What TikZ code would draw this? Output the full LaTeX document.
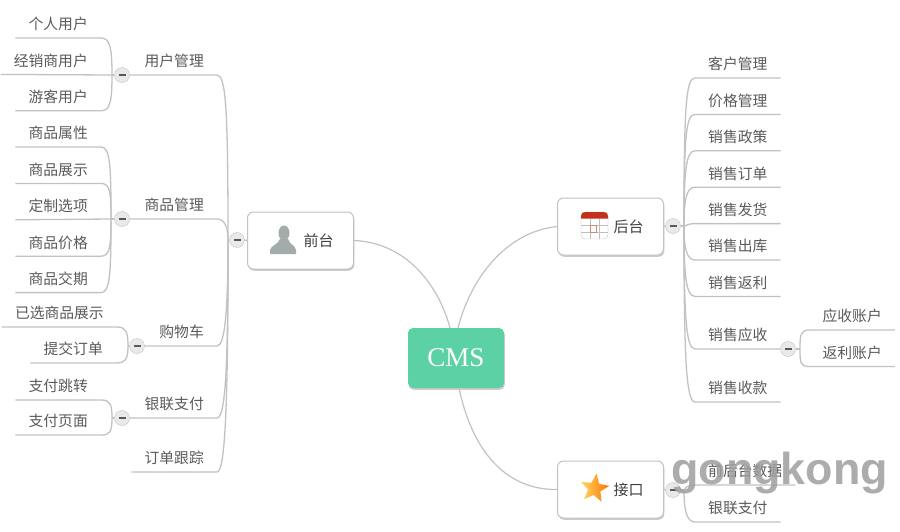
\documentclass[tikz,border=0pt]{standalone}
\usepackage{xcolor}
\usepackage{fontspec}
\usepackage{tikz}
\usetikzlibrary{shapes.geometric,positioning,calc,shadows}
\setmainfont{Liberation Serif}
\newfontfamily\cjk{Noto Sans CJK SC}
\newfontfamily\markfont{Liberation Sans}
\definecolor{rootgreen}{HTML}{5CD1A4}
\definecolor{linegray}{HTML}{C2C2C2}
\definecolor{textgray}{HTML}{5A5A5A}
\definecolor{buttongray}{HTML}{E8EAE8}
\definecolor{personicon}{HTML}{A3ABAB}
\definecolor{calendarred}{HTML}{C4301A}

\begin{document}
\begin{tikzpicture}[
    x=1pt, y=-1pt,
    node distance=12pt and 0pt,
    leaf/.style={rectangle, inner xsep=13pt, inner ysep=4.5pt, text height=11.5pt, text depth=3.5pt, font=\cjk\fontsize{14.8}{16}\selectfont, text=textgray},
    topic/.style={rectangle, draw=linegray, line width=1pt, fill=white, rounded corners=6pt, minimum width=106pt, minimum height=57pt, font=\cjk\fontsize{15}{17}\selectfont, text=black!75, drop shadow={shadow xshift=0.8pt, shadow yshift=-1.8pt, opacity=0.4}},
    rootbox/.style={rectangle, fill=rootgreen, rounded corners=5pt, minimum width=96pt, minimum height=60pt, font=\fontsize{27}{30}\selectfont, text=white, drop shadow={shadow xshift=0.8pt, shadow yshift=-1.8pt, opacity=0.4}},
    collapse/.style={circle, draw=linegray, fill=buttongray, minimum size=15pt, inner sep=0pt, path picture={\fill[black!65] ($(path picture bounding box.center)+(-3.5,-1)$) rectangle ($(path picture bounding box.center)+(3.5,1)$);}},
    branch/.style={draw=linegray, line width=1.3pt},
    link/.style={draw=linegray, line width=1.2pt}
]
  \useasboundingbox (0,0) rectangle (900,531);
  \fill[white] (0,0) rectangle (900,531);

  \node[rootbox] (cms) at (456,358) {CMS};
  \node[topic] (front) at (300.5,240.5) {\hspace*{36pt}前台};
  \node[topic] (back) at (610.5,226.5) {\hspace*{36pt}后台};
  \node[topic] (api) at (610.5,489.5) {\hspace*{36pt}接口};

  \draw[link] (front.east) .. controls (410,243) and (440,290) .. (450,328);
  \draw[link] (back.west) .. controls (505,232) and (470,280) .. (458,328);
  \draw[link] (api.west) .. controls (505,490) and (472,450) .. (459,388);

  \fill[personicon] (284,233) ellipse (5.5 and 7.5);
  \fill[personicon] (270,254) -- (270,250) .. controls (271,245) and (278,245) .. (280,239) -- (288,239) .. controls (290,245) and (295,245) .. (296,250) -- (296,254) -- cycle;
  \draw[black!25, fill=white, rounded corners=4pt] (581,212) rectangle (608,239);
  \foreach \gridx in {590,599} {\draw[black!25] (\gridx,219) -- (\gridx,239);}
  \foreach \gridy in {225,232} {\draw[black!25] (581,\gridy) -- (608,\gridy);}
  \draw[calendarred!60] (590,225) rectangle (596,232);
  \fill[calendarred] (581,218.5) -- (581,216) .. controls (581,213) and (583,212) .. (586,212) -- (603,212) .. controls (606,212) and (608,213) .. (608,216) -- (608,218.5) -- cycle;
  \node[star, star points=5, star point ratio=2.3, shape border rotate=-8, left color=yellow!50!orange!60, right color=orange!90!red, minimum size=30pt, inner sep=0pt] (staricon) at (594.5,488.5) {};

  \node[collapse] (bfront) at (237,240) {};
  \node[collapse] (bback) at (673,226) {};
  \node[collapse] (bapi) at (673,490) {};
  \node[collapse] (buser) at (122,75) {};
  \node[collapse] (bgoods) at (122,219) {};
  \node[collapse] (bcart) at (137,346) {};
  \node[collapse] (bpay) at (122,418) {};
  \node[collapse] (bsale) at (788,349) {};

  \coordinate (ffront) at (228,240);
  \coordinate (fback) at (684,226);
  \coordinate (fapi) at (684,490);
  \coordinate (fuser) at (112,75);
  \coordinate (fgoods) at (111,219);
  \coordinate (fcart) at (128,346);
  \coordinate (fpay) at (112,418);
  \coordinate (fsale) at (800,349);

  \node[leaf, anchor=south east] (user) at (217,75) {用户管理};
  \node[leaf, anchor=south east] (goods) at (217,219) {商品管理};
  \node[leaf, anchor=south east] (cart) at (217,346) {购物车};
  \node[leaf, anchor=south east] (pay) at (217,418) {银联支付};
  \node[leaf, anchor=south east] (track) at (217,472) {订单跟踪};

  \node[leaf, anchor=south east] (user1) at (101,38) {个人用户};
  \node[leaf, below left=of user1.south east] (user2) {经销商用户};
  \node[leaf, below left=of user2.south east] (user3) {游客用户};

  \node[leaf, anchor=south east] (goods1) at (101,147) {商品属性};
  \node[leaf, below left=of goods1.south east] (goods2) {商品展示};
  \node[leaf, below left=of goods2.south east] (goods3) {定制选项};
  \node[leaf, below left=of goods3.south east] (goods4) {商品价格};
  \node[leaf, below left=of goods4.south east] (goods5) {商品交期};

  \node[leaf, anchor=south east] (cart1) at (117,327) {已选商品展示};
  \node[leaf, anchor=south east] (cart2) at (116,363) {提交订单};
  \node[leaf, anchor=south east] (pay1) at (101,400) {支付跳转};
  \node[leaf, anchor=south east] (pay2) at (101,435) {支付页面};

  \node[leaf, anchor=south west] (back1) at (695,78) {客户管理};
  \node[leaf, below right=of back1.south west] (back2) {价格管理};
  \node[leaf, below right=of back2.south west] (back3) {销售政策};
  \node[leaf, below right=of back3.south west] (back4) {销售订单};
  \node[leaf, below right=of back4.south west] (back5) {销售发货};
  \node[leaf, below right=of back5.south west] (back6) {销售出库};
  \node[leaf, below right=of back6.south west] (back7) {销售返利};
  \node[leaf, anchor=south west] (back8) at (695,349) {销售应收};
  \node[leaf, anchor=south west] (back9) at (695,402) {销售收款};
  \node[leaf, anchor=south east] (sale1) at (895,330) {应收账户};
  \node[leaf, anchor=south east] (sale2) at (895,366.5) {返利账户};
  \node[leaf, anchor=south west] (api1) at (695,485) {前后台数据};
  \node[leaf, anchor=south west] (api2) at (695,522) {银联支付};

  \draw[branch] (front.west) -- (bfront.east);
  \draw[branch] (bfront.west) -- (ffront);
  \draw[branch] (back.east) -- (bback.west);
  \draw[branch] (bback.east) -- (fback);
  \draw[branch] (api.east) -- (bapi.west);
  \draw[branch] (bapi.east) -- (fapi);

  \draw[branch] (buser.east) -- (user.south east) .. controls +(9,0) and +(0,-130) .. (ffront);
  \draw[branch] (bgoods.east) -- (goods.south east) .. controls +(8,0) and +(0,-12) .. (ffront);
  \draw[branch] (bcart.east) -- (cart.south east) .. controls +(8,0) and +(0,70) .. (ffront);
  \draw[branch] (bpay.east) -- (pay.south east) .. controls +(9,0) and +(0,120) .. (ffront);
  \draw[branch] (track.south west) -- (track.south east) .. controls +(9,0) and +(0,150) .. (ffront);

  \draw[branch] (buser.west) -- (fuser);
  \draw[branch] (fuser) .. controls +(0,-27) and +(9,0) .. (user1.south east) -- (user1.south west);
  \draw[branch] (fuser) -- (user2.south west);
  \draw[branch] (fuser) .. controls +(0,27) and +(9,0) .. (user3.south east) -- (user3.south west);

  \draw[branch] (bgoods.west) -- (fgoods);
  \draw[branch] (fgoods) .. controls +(0,-55) and +(9,0) .. (goods1.south east) -- (goods1.south west);
  \draw[branch] (fgoods) .. controls +(0,-27) and +(9,0) .. (goods2.south east) -- (goods2.south west);
  \draw[branch] (fgoods) -- (goods3.south west);
  \draw[branch] (fgoods) .. controls +(0,27) and +(9,0) .. (goods4.south east) -- (goods4.south west);
  \draw[branch] (fgoods) .. controls +(0,55) and +(9,0) .. (goods5.south east) -- (goods5.south west);

  \draw[branch] (bcart.west) -- (fcart);
  \draw[branch] (fcart) .. controls +(0,-14) and +(9,0) .. (cart1.south east) -- (cart1.south west);
  \draw[branch] (fcart) .. controls +(0,14) and +(9,0) .. (cart2.south east) -- (cart2.south west);

  \draw[branch] (bpay.west) -- (fpay);
  \draw[branch] (fpay) .. controls +(0,-14) and +(9,0) .. (pay1.south east) -- (pay1.south west);
  \draw[branch] (fpay) .. controls +(0,14) and +(9,0) .. (pay2.south east) -- (pay2.south west);

  \draw[branch] (fback) .. controls +(0,-120) and +(-9,0) .. (back1.south west) -- (back1.south east);
  \draw[branch] (fback) .. controls +(0,-90) and +(-9,0) .. (back2.south west) -- (back2.south east);
  \draw[branch] (fback) .. controls +(0,-55) and +(-9,0) .. (back3.south west) -- (back3.south east);
  \draw[branch] (fback) .. controls +(0,-25) and +(-9,0) .. (back4.south west) -- (back4.south east);
  \draw[branch] (fback) .. controls +(3,-1) and +(-5,0) .. (back5.south west) -- (back5.south east);
  \draw[branch] (fback) .. controls +(0,20) and +(-9,0) .. (back6.south west) -- (back6.south east);
  \draw[branch] (fback) .. controls +(0,50) and +(-9,0) .. (back7.south west) -- (back7.south east);
  \draw[branch] (fback) .. controls +(0,90) and +(-9,0) .. (back8.south west) -- (bsale.west);
  \draw[branch] (fback) .. controls +(0,130) and +(-9,0) .. (back9.south west) -- (back9.south east);

  \draw[branch] (bsale.east) -- (fsale);
  \draw[branch] (fsale) .. controls +(0,-14) and +(-9,0) .. (sale1.south west) -- (sale1.south east);
  \draw[branch] (fsale) .. controls +(0,14) and +(-9,0) .. (sale2.south west) -- (sale2.south east);

  \draw[branch] (fapi) .. controls +(2,-4) and +(-5,0) .. (api1.south west) -- (api1.south east);
  \draw[branch] (fapi) .. controls +(0,18) and +(-9,0) .. (api2.south west) -- (api2.south east);

  \node[anchor=base, font=\markfont\bfseries\fontsize{44.8}{46}\selectfont, text=black!38, text opacity=0.85] (watermark) at (779.5,484) {gongkong};
\end{tikzpicture}
\end{document}
